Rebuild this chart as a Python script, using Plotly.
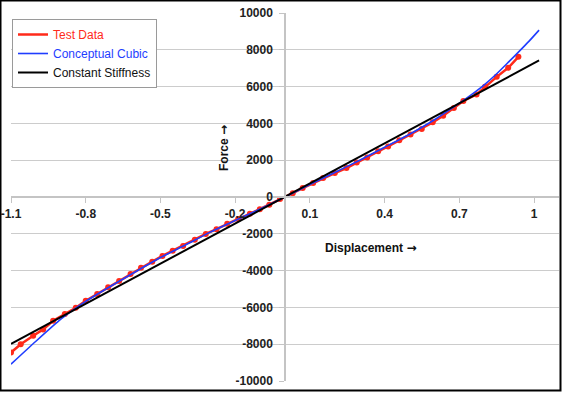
import plotly.graph_objects as go

# Test data (displacement, force)
test_x = [-1.100, -1.061, -1.011, -0.971, -0.931, -0.884, -0.840, -0.800, -0.754, -0.710,
          -0.666, -0.620, -0.578, -0.533, -0.492, -0.451, -0.409, -0.362, -0.318, -0.275,
          -0.232, -0.188, -0.141, -0.101, -0.063, -0.020, 0.031, 0.071, 0.113, 0.153,
          0.200, 0.247, 0.288, 0.330, 0.374, 0.414, 0.459, 0.504, 0.549, 0.593,
          0.635, 0.678, 0.716, 0.769, 0.803, 0.850, 0.896, 0.937]
test_f = [-8450, -8000, -7545, -7195, -6730, -6360, -6020, -5640, -5275, -4910,
          -4565, -4190, -3840, -3515, -3205, -2915, -2660, -2330, -2005, -1750,
          -1460, -1190, -915, -660, -425, -110, 210, 485, 755, 1030,
          1300, 1575, 1880, 2150, 2480, 2750, 3080, 3390, 3700, 4060,
          4420, 4840, 5220, 5570, 5990, 6530, 7020, 7620]

# Conceptual cubic curve
cubic_x = [-1.10, -1.00, -0.90, -0.85, -0.80, -0.70, -0.60, -0.50, -0.40, -0.30, -0.20, -0.10,
           0.00, 0.10, 0.20, 0.30, 0.40, 0.50, 0.60, 0.70, 0.75, 0.80, 0.85, 0.90, 0.937, 0.98, 1.02]
cubic_f = [-9085, -7840, -6640, -6130, -5670, -4850, -4060, -3290, -2610, -1910, -1280, -650,
           0, 680, 1330, 2000, 2700, 3410, 4200, 5100, 5580, 6100, 6700, 7370, 7871, 8470, 9069]

# Constant stiffness line
stiff_x = [-1.10, 1.02]
stiff_f = [-7980, 7420]

x_ticks = [-1.1, -0.8, -0.5, -0.2, 0.1, 0.4, 0.7, 1.0]
x_labels = ["-1.1", "-0.8", "-0.5", "-0.2", "0.1", "0.4", "0.7", "1"]
y_ticks = [-10000, -8000, -6000, -4000, -2000, 0, 2000, 4000, 6000, 8000, 10000]
y_labels = [str(v) for v in y_ticks]

RED = "#ff2a1a"
BLUE = "#1f3dff"
BLACK = "#000000"

FONT = "Liberation Sans, Arial, sans-serif"
ARROW = "<span style='font-family:DejaVu Sans'>→</span>"

fig = go.Figure()
fig.add_trace(go.Scatter(x=test_x, y=test_f, mode="lines",
                         line=dict(color=RED, width=2.5),
                         name="<span style='color:%s'>Test Data</span>" % RED))
fig.add_trace(go.Scatter(x=test_x, y=test_f, mode="markers",
                         marker=dict(color=RED, size=6), showlegend=False))
fig.add_trace(go.Scatter(x=cubic_x, y=cubic_f, mode="lines",
                         line=dict(color=BLUE, width=1.6, shape="spline", smoothing=0.6),
                         name="<span style='color:%s'>Conceptual Cubic</span>" % BLUE))
fig.add_trace(go.Scatter(x=stiff_x, y=stiff_f, mode="lines",
                         line=dict(color=BLACK, width=2),
                         name="Constant Stiffness"))

W, H = 566, 395
ml, mr, mt, mb = 11, 7, 13, 14
pw, ph = W - ml - mr, H - mt - mb

def px_x(p):
    return (p - ml) / pw

def px_y(p):
    return 1 - (p - mt) / ph

fig.update_layout(
    width=W, height=H,
    margin=dict(l=ml, r=mr, t=mt, b=mb, autoexpand=False),
    paper_bgcolor="white", plot_bgcolor="white",
    showlegend=True,
    legend=dict(x=px_x(12), y=px_y(19), xanchor="left", yanchor="top",
                bgcolor="white", bordercolor="#9a9a9a", borderwidth=1,
                font=dict(family=FONT, size=12, color="#111111"),
                tracegroupgap=0),
    xaxis=dict(range=[-1.1, 1.1], anchor="free", position=0.5, automargin=False,
               tickmode="array", tickvals=x_ticks, ticktext=x_labels,
               showgrid=False, zeroline=False, showline=True,
               linecolor="#c4c4c4", linewidth=1.5,
               ticks="outside", ticklen=5, tickcolor="#c4c4c4",
               ticklabelstandoff=1,
               tickfont=dict(family=FONT, size=12, color="#222222", weight="bold")),
    yaxis=dict(range=[-10000, 10000], anchor="free", position=0.5, automargin=False,
               tickmode="array", tickvals=y_ticks, ticktext=y_labels,
               showgrid=True, gridcolor="#cccccc", gridwidth=1,
               zeroline=False, showline=True,
               linecolor="#c4c4c4", linewidth=1.5,
               ticks="outside", ticklen=5, tickcolor="#c4c4c4",
               ticklabelstandoff=4,
               tickfont=dict(family=FONT, size=12, color="#222222", weight="bold")),
    annotations=[
        dict(text="Force " + ARROW, x=px_x(224), y=px_y(123), xref="paper", yref="paper",
             showarrow=False, textangle=-90,
             font=dict(family=FONT, size=12, color="#111111", weight="bold")),
        dict(text="Displacement " + ARROW, x=px_x(418), y=px_y(248), xref="paper", yref="paper",
             showarrow=False,
             font=dict(family=FONT, size=12, color="#111111", weight="bold")),
    ],
    shapes=[
        dict(type="rect", xref="paper", yref="paper",
             x0=px_x(0.5), x1=px_x(560.5), y0=px_y(390.5), y1=px_y(0.5),
             line=dict(color="black", width=2), fillcolor="rgba(0,0,0,0)", layer="above"),
    ],
)

fig.write_html("out.html",
               config={"displayModeBar": False},
               post_script="document.body.style.margin='0';document.body.style.overflow='hidden';")
